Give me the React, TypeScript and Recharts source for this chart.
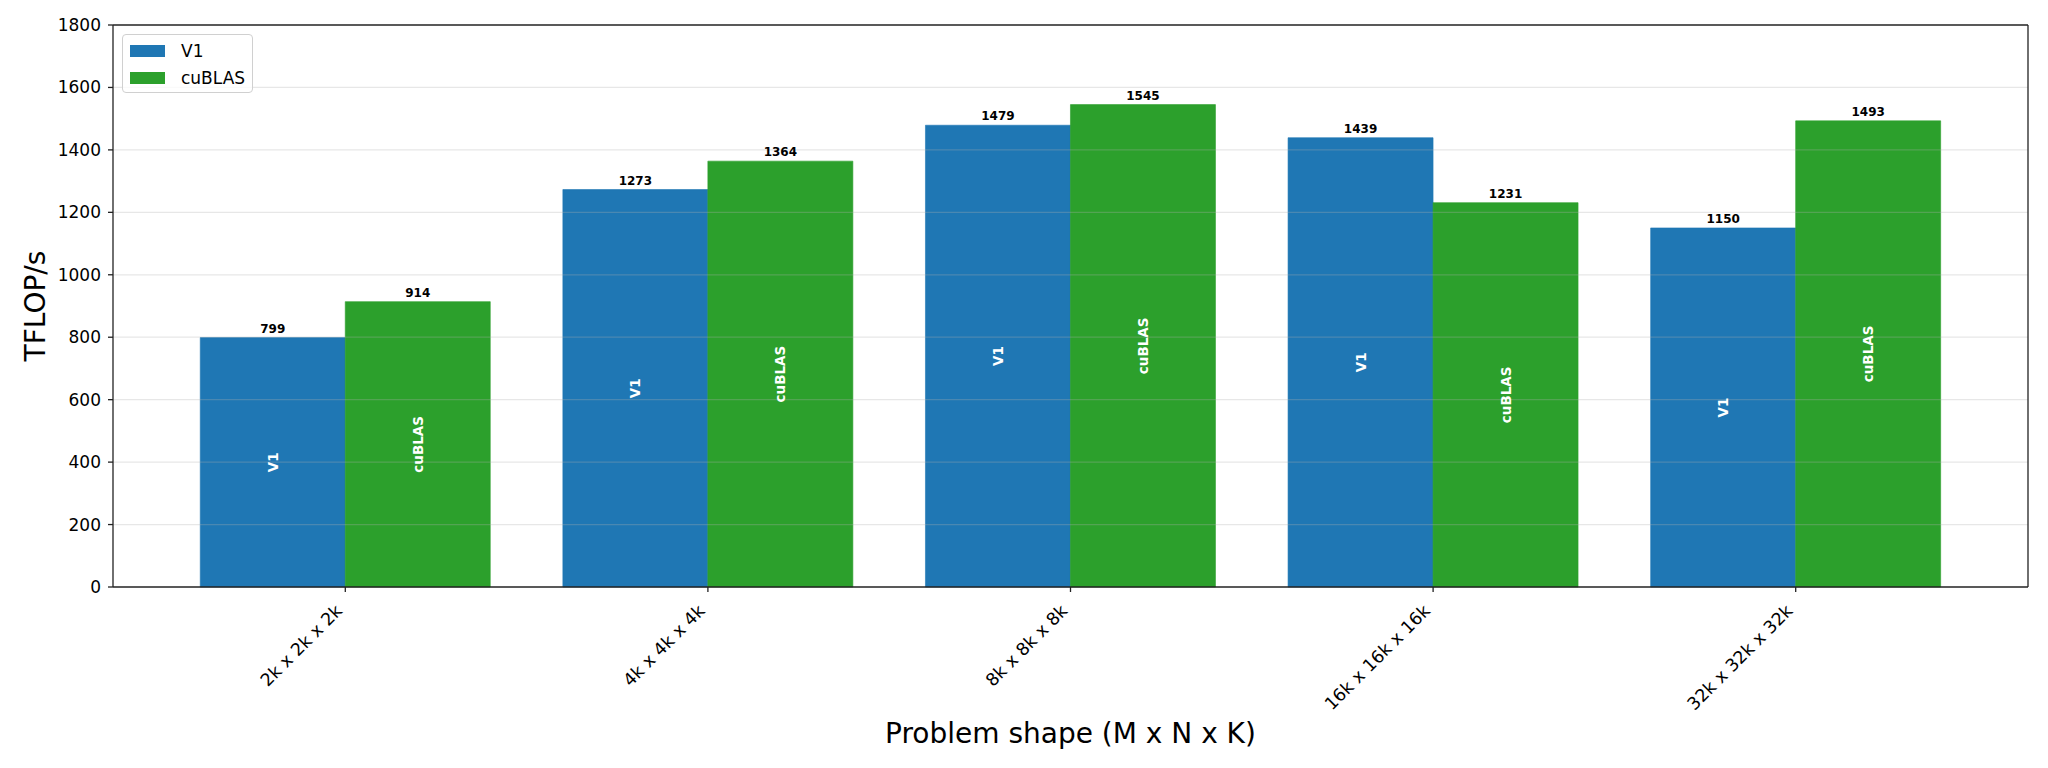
import React from 'react';
import { BarChart, Bar, XAxis, YAxis, ReferenceLine, LabelList, Legend } from 'recharts';

const categories = ['2k x 2k x 2k', '4k x 4k x 4k', '8k x 8k x 8k', '16k x 16k x 16k', '32k x 32k x 32k'];
const v1Values = [799, 1273, 1479, 1439, 1150];
const cublasValues = [914, 1364, 1545, 1231, 1493];
const yTicks = [0, 200, 400, 600, 800, 1000, 1200, 1400, 1600, 1800];
const gridValues = [200, 400, 600, 800, 1000, 1200, 1400, 1600];
const seriesNames = ['V1', 'cuBLAS'];
const seriesColors = ['#1f77b4', '#2ca02c'];

const data = categories.map((c, i) => ({ shape: c, v1: v1Values[i], cublas: cublasValues[i] }));

const FONT = '"DejaVu Sans", Verdana, sans-serif';

const getBox = (props: any) => {
  if (props && typeof props.x === 'number' && typeof props.width === 'number') return props;
  return props.viewBox || props;
};

const XTick = (props: any) => {
  const { x, y, payload } = props;
  const px = x - 2;
  const py = y + 18;
  return (
    <text
      x={px}
      y={py}
      transform={`rotate(-45 ${px} ${py})`}
      textAnchor="end"
      fontSize={17.5}
      fontFamily={FONT}
      fill="#000"
    >
      {payload.value}
    </text>
  );
};

const TopLabel = (props: any) => {
  const b = getBox(props);
  const cx = b.x + b.width / 2;
  return (
    <text x={cx} y={b.y - 5} textAnchor="middle" fontSize={12} fontWeight="bold" fontFamily={FONT} fill="#000">
      {props.value}
    </text>
  );
};

const makeInner = (name: string) => (props: any) => {
  const b = getBox(props);
  const cx = b.x + b.width / 2;
  const cy = b.y + b.height / 2;
  return (
    <text
      x={cx}
      y={cy}
      transform={`rotate(-90 ${cx} ${cy})`}
      textAnchor="middle"
      dominantBaseline="central"
      fontSize={13.5}
      fontWeight="bold"
      fontFamily={FONT}
      fill="#ffffff"
    >
      {name}
    </text>
  );
};

const YTitle = (props: any) => {
  const vb = props.viewBox || { x: 0, y: 25, width: 113, height: 562 };
  const cy = vb.y + vb.height / 2;
  const cx = 35;
  return (
    <text
      x={cx}
      y={cy}
      transform={`rotate(-90 ${cx} ${cy})`}
      textAnchor="middle"
      dominantBaseline="central"
      fontSize={28}
      fontFamily={FONT}
      fill="#000"
    >
      TFLOP/s
    </text>
  );
};

const XTitle = (props: any) => {
  const vb = props.viewBox || { x: 113, y: 587, width: 1915, height: 181 };
  const cx = vb.x + vb.width / 2;
  return (
    <text x={cx} y={743} textAnchor="middle" fontSize={28} fontFamily={FONT} fill="#000">
      Problem shape (M x N x K)
    </text>
  );
};

const LegendBox = () => (
  <div
    style={{
      width: 131,
      height: 59,
      boxSizing: 'border-box',
      border: '1px solid #d0d0d0',
      borderRadius: 4,
      background: 'rgba(255,255,255,0.8)',
      position: 'relative',
      fontFamily: FONT,
      fontSize: 17,
      color: '#000',
    }}
  >
    {seriesNames.map((n, i) => (
      <div key={n} style={{ position: 'absolute', left: 0, top: i === 0 ? 4 : 31, height: 24, width: 131 }}>
        <div
          style={{
            position: 'absolute',
            left: 7,
            top: 6,
            width: 35,
            height: 12,
            background: seriesColors[i],
          }}
        />
        <div style={{ position: 'absolute', left: 58, top: 1, lineHeight: '22px', whiteSpace: 'nowrap' }}>{n}</div>
      </div>
    ))}
  </div>
);

export default function App() {
  return (
    <div style={{ position: 'absolute', left: 0, top: 0, width: 2048, height: 768, background: '#fff' }}>
      <BarChart
        width={2048}
        height={768}
        data={data}
        margin={{ top: 24, right: 19, left: 0, bottom: 0 }}
        barCategoryGap="10%"
        barGap={0}
      >
        <XAxis
          dataKey="shape"
          height={181}
          padding={{ left: 51, right: 51 }}
          tick={<XTick />}
          tickSize={5}
          tickMargin={2}
          interval={0}
          axisLine={{ stroke: '#222', strokeWidth: 1.3 }}
          tickLine={{ stroke: '#222', strokeWidth: 1.3 }}
          label={{ content: (p: any) => <XTitle {...p} /> }}
        />
        <XAxis
          xAxisId="top"
          orientation="top"
          dataKey="shape"
          height={1}
          padding={{ left: 51, right: 51 }}
          tick={false}
          tickLine={false}
          axisLine={{ stroke: '#222', strokeWidth: 1.3 }}
        />
        <YAxis
          width={113}
          domain={[0, 1800]}
          ticks={yTicks}
          interval={0}
          tickSize={5}
          tickMargin={7}
          tick={{ fontSize: 17, fontFamily: FONT, fill: '#000' }}
          axisLine={{ stroke: '#222', strokeWidth: 1.3 }}
          tickLine={{ stroke: '#222', strokeWidth: 1.3 }}
          label={{ content: (p: any) => <YTitle {...p} /> }}
        />
        <YAxis
          yAxisId="right"
          orientation="right"
          width={1}
          domain={[0, 1800]}
          ticks={yTicks}
          tick={false}
          tickLine={false}
          axisLine={{ stroke: '#222', strokeWidth: 1.3 }}
        />
        <Legend
          layout="vertical"
          align="center"
          verticalAlign="middle"
          wrapperStyle={{ left: 122, top: 34, width: 131, height: 59 }}
          content={() => <LegendBox />}
        />
        <Bar
          dataKey="v1"
          name={seriesNames[0]}
          fill={seriesColors[0]}
          stroke={seriesColors[0]}
          strokeWidth={0.6}
          isAnimationActive={false}
        >
          <LabelList dataKey="v1" content={(p: any) => <TopLabel {...p} />} />
          <LabelList dataKey="v1" content={makeInner(seriesNames[0])} />
        </Bar>
        <Bar
          dataKey="cublas"
          name={seriesNames[1]}
          fill={seriesColors[1]}
          stroke={seriesColors[1]}
          strokeWidth={0.6}
          isAnimationActive={false}
        >
          <LabelList dataKey="cublas" content={(p: any) => <TopLabel {...p} />} />
          <LabelList dataKey="cublas" content={makeInner(seriesNames[1])} />
        </Bar>
        {gridValues.map((v) => (
          <ReferenceLine key={v} y={v} stroke="#b0b0b0" strokeOpacity={0.3} strokeWidth={1.3} />
        ))}
      </BarChart>
    </div>
  );
}
